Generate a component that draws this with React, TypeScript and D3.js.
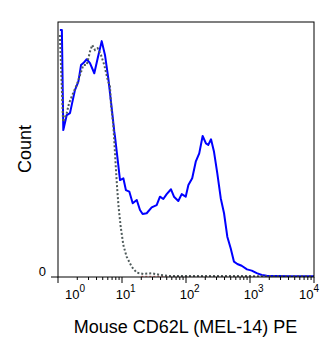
import React from "react";
import * as d3 from "d3";

const WIDTH = 334;
const HEIGHT = 357;

// Stained sample (blue solid) — fluorescence intensity vs normalized count
const stainedX = [1.07, 1.15, 1.21, 1.37, 1.54, 1.64, 1.84, 2.08, 2.29, 2.49, 2.81, 3.16, 3.69, 4.17, 4.82, 5.42, 6.11, 6.9, 7.58, 7.78, 8.45, 9.31, 10.5, 11.5, 13.0, 14.7, 17.0, 19.1, 21.0, 24.3, 29.1, 34.8, 39.2, 44.2, 49.9, 58.3, 64.9, 75.8, 85.7, 98.9, 109, 125, 142, 161, 182, 205, 223, 246, 274, 308, 349, 393, 442, 499, 562, 634, 741, 898, 1064, 1274, 1524, 1824, 4217, 10000];
const stainedY = [96.9, 96.9, 57.6, 63.5, 64.3, 67.5, 73.3, 76.6, 83.1, 83.9, 85.4, 83.9, 79.9, 85.8, 92.5, 87.1, 77.9, 66.3, 57.0, 55.0, 47.2, 38.0, 38.7, 34.1, 33.5, 28.9, 30.2, 26.3, 24.7, 25.0, 27.3, 28.2, 31.5, 30.6, 32.5, 34.4, 31.5, 29.8, 32.5, 31.5, 36.1, 38.7, 45.2, 48.5, 55.3, 52.4, 51.8, 54.0, 49.1, 40.7, 30.9, 25.0, 15.8, 11.3, 6.0, 5.1, 4.4, 3.0, 2.5, 1.5, 0.8, 0.5, 0.3, 0.3];

// Unstained control (gray dotted)
const controlX = [1.07, 1.2, 1.37, 1.49, 1.73, 1.96, 2.21, 2.49, 2.81, 3.16, 3.43, 3.79, 4.17, 4.69, 5.29, 5.98, 6.49, 6.73, 7.31, 7.64, 7.97, 8.35, 8.82, 9.54, 10.5, 11.8, 14.2, 17.0, 21.5, 29.1, 39.2, 56.2, 10000];
const controlY = [94.9, 60.8, 64.3, 68.2, 72.2, 75.3, 79.2, 83.1, 83.1, 88.4, 91.0, 89.0, 89.7, 87.1, 83.1, 77.3, 74.6, 67.5, 59.6, 51.8, 43.9, 35.7, 27.8, 19.7, 12.5, 8.0, 4.0, 1.7, 1.2, 1.5, 0.8, 0.4, 0.3];

// Baseline series (red dotted, flat at zero)
const baselineX = [20, 10000];
const baselineY = [0.2, 0.2];

const xDecades = [0, 1, 2, 3, 4];
const yTickValues = [0];
const yTickLabels = ["0"];
const xTitle = "Mouse CD62L (MEL-14) PE";
const yTitle = "Count";

const FONT = "Arial, 'Liberation Sans', sans-serif";

export default function App() {
  const left = 58, right = 314, top = 22, bottom = 277;
  const x = d3.scaleLog().domain([1, 10000]).range([left, right]);
  const y = d3.scaleLinear().domain([0, 100]).range([bottom, top]);

  const line = d3
    .line<[number, number]>()
    .x((d) => x(d[0]))
    .y((d) => y(d[1]));

  const stained = stainedX.map((v, i) => [v, stainedY[i]] as [number, number]);
  const control = controlX.map((v, i) => [v, controlY[i]] as [number, number]);
  const base = baselineX.map((v, i) => [v, baselineY[i]] as [number, number]);

  const minorTicks: number[] = [];
  for (let d = 0; d < 4; d++) {
    for (let m = 2; m <= 9; m++) minorTicks.push(m * Math.pow(10, d));
  }

  return (
    <svg
      width={WIDTH}
      height={HEIGHT}
      style={{ position: "absolute", left: 0, top: 0, background: "#fff" }}
      fontFamily={FONT}
    >
      <rect x={0} y={0} width={WIDTH} height={HEIGHT} fill="#fff" />
      <defs>
        <clipPath id="plotclip">
          <rect x={left} y={top} width={right - left} height={bottom - top} />
        </clipPath>
      </defs>
      <g clipPath="url(#plotclip)">
        <path d={line(base) || ""} fill="none" stroke="#e08080" strokeWidth={1.5} strokeDasharray="2,2" />
        <path d={line(stained) || ""} fill="none" stroke="#0000ff" strokeWidth={2} strokeLinejoin="round" />
        <path d={line(control) || ""} fill="none" stroke="#4f5b5b" strokeWidth={2} strokeDasharray="2,2" />
      </g>
      {/* frame */}
      <rect x={left} y={top} width={right - left} height={bottom - top} fill="none" stroke="#000" strokeWidth={1} />
      {/* y ticks */}
      {yTickValues.map((v, i) => (
        <g key={"yt" + i}>
          <line x1={left - 7} x2={left} y1={y(v)} y2={y(v)} stroke="#000" strokeWidth={1} />
          <text x={46} y={y(v) - 1} textAnchor="end" fontSize={13} fill="#000">
            {yTickLabels[i]}
          </text>
        </g>
      ))}
      {/* x minor ticks */}
      {minorTicks.map((v, i) => (
        <line key={"mt" + i} x1={x(v)} x2={x(v)} y1={bottom} y2={bottom + 3} stroke="#000" strokeWidth={1} />
      ))}
      {/* x major ticks + labels */}
      {xDecades.map((k, i) => {
        const px = x(Math.pow(10, k));
        const first = i === 0;
        const last = i === xDecades.length - 1;
        const baseX = first ? px + 7 : last ? px - 0.5 : px + 1;
        const anchor = first ? "start" : last ? "end" : "middle";
        const supX = first ? baseX + 14.5 : last ? baseX : baseX + 7;
        return (
          <g key={"xt" + i}>
            <line x1={px} x2={px} y1={bottom} y2={bottom + 6} stroke="#000" strokeWidth={1} />
            <text x={baseX} y={299} textAnchor={anchor} fontSize={13} fill="#000">
              10
            </text>
            <text x={supX} y={292} textAnchor="start" fontSize={10} fill="#000">
              {k}
            </text>
          </g>
        );
      })}
      <text x={185.5} y={333} textAnchor="middle" fontSize={18} fill="#000">
        {xTitle}
      </text>
      <text transform="rotate(-90)" x={-149} y={31} textAnchor="middle" fontSize={18} fill="#000">
        {yTitle}
      </text>
    </svg>
  );
}
